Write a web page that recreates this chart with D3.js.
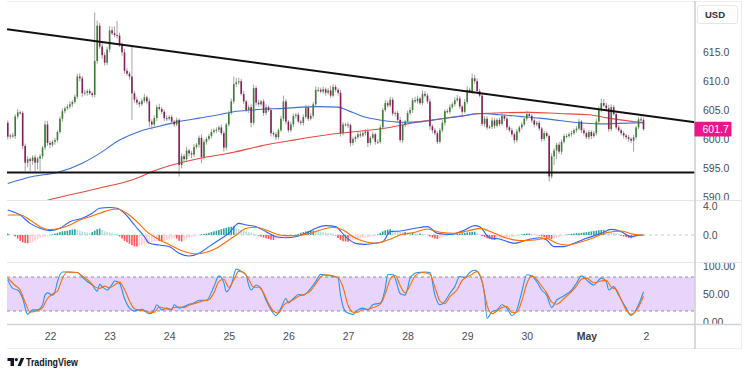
<!DOCTYPE html>
<html>
<head>
<meta charset="utf-8">
<script src="https://cdn.jsdelivr.net/npm/d3@7"></script>
<style>
  body { margin: 0; background: #fff; }
  svg { display: block; font-family: "Liberation Sans", Arial, sans-serif; }
</style>
</head>
<body>
<svg id="chart" width="749" height="375"></svg>
<script>
// hourly candles, index 0 = Apr 21 07:00, index 17 = Apr 22 00:00
var firstOpen = 602.8;
var closes = [
  600.4,600.6,600.5,603.9,604.6,604.5,598.8,595.9,596.5,596.2,
  596.8,595.9,596.6,597.0,598.5,602.5,599.3,599.0,599.5,599.8,
  601.2,603.5,604.8,605.3,605.6,606.0,606.4,607.3,610.8,610.5,
  607.9,608.0,608.3,607.9,607.6,613.5,619.6,616.0,614.5,613.2,
  615.5,618.8,618.3,618.0,617.9,616.3,615.0,611.8,611.3,610.8,
  607.9,606.8,606.3,606.0,606.6,607.2,606.5,603.0,602.5,603.6,
  605.5,605.2,604.7,603.6,603.5,603.8,603.0,602.5,603.3,595.5,
  597.0,596.5,598.0,597.5,597.3,598.6,599.0,600.2,596.8,599.5,
  600.0,600.5,601.2,601.5,601.6,602.0,601.0,598.5,602.5,604.5,
  606.5,609.5,609.8,610.0,607.8,606.5,605.0,605.5,602.8,608.8,
  606.3,606.0,606.5,604.5,605.5,605.0,601.0,600.8,600.3,601.5,
  603.5,606.5,603.0,601.5,602.5,604.0,604.2,603.0,602.8,603.8,
  605.5,603.5,604.0,606.0,608.5,608.5,608.2,608.6,608.0,608.4,
  607.5,609.0,608.5,608.0,601.0,602.5,602.5,602.4,599.3,600.0,
  600.3,600.8,600.6,601.0,601.3,599.3,600.2,600.8,599.5,599.5,
  602.0,605.0,606.2,605.8,606.8,604.4,604.5,603.3,599.8,602.4,
  603.0,604.5,605.0,606.7,606.5,607.0,606.2,607.8,607.5,606.5,
  602.2,601.5,601.0,599.5,601.5,602.8,604.8,604.7,605.5,606.0,
  606.7,607.0,605.6,604.7,606.4,608.5,608.2,610.5,610.0,608.3,
  607.5,602.6,603.5,602.0,602.1,603.2,602.3,603.3,602.6,604.0,
  603.5,602.0,601.5,600.8,599.8,601.3,602.0,602.5,603.5,604.3,
  604.0,603.2,602.5,602.8,601.8,600.0,601.0,600.5,593.5,597.0,
  598.0,599.0,597.8,599.5,600.5,600.5,600.8,601.0,601.5,601.8,
  603.0,601.5,601.0,600.3,601.2,600.5,601.0,603.0,605.0,606.2,
  605.8,605.3,601.7,605.5,604.3,602.0,601.5,601.0,600.6,600.3,
  600.0,599.7,600.3,602.0,603.4,603.3,601.7
];
var upWick = [
  0.4,0.3,0.5,0.4,0.6,0.3,0.3,0.4,0.5,0.3,
  0.4,0.5,0.3,0.4,0.3,0.6,0.6,0.4,0.3,0.4,
  0.3,0.4,0.5,0.3,0.4,0.5,0.3,0.4,0.5,0.6,
  0.4,0.5,0.3,0.4,0.3,8.4,0.9,0.5,0.6,0.5,
  0.4,0.7,0.6,1.2,2.4,0.5,0.4,0.6,0.5,0.4,
  5.2,0.4,0.5,0.3,0.4,0.6,0.3,0.5,0.4,0.5,
  0.4,0.6,0.3,0.4,0.5,0.3,0.4,0.3,0.4,0.3,
  0.5,0.4,0.6,0.3,0.4,0.5,0.3,0.4,0.6,0.4,
  0.3,0.4,0.5,0.3,0.4,0.3,0.5,0.4,0.3,0.4,
  0.5,1.3,0.8,0.6,0.4,0.5,0.3,0.4,0.5,0.6,
  0.4,0.5,0.3,0.4,0.5,0.3,0.4,0.3,0.4,0.3,
  0.5,1.0,0.4,0.3,0.5,0.4,0.3,0.4,0.3,0.5,
  0.4,0.3,0.5,0.4,0.6,0.5,0.4,0.5,0.3,0.4,
  0.8,0.5,0.4,0.3,0.5,0.4,0.3,0.4,0.3,0.4,
  0.3,0.4,0.5,0.3,0.4,0.5,0.3,0.4,0.3,0.4,
  0.5,0.4,0.6,0.4,0.5,0.4,0.3,0.4,0.5,0.4,
  0.3,0.4,0.5,0.4,0.6,0.5,0.3,0.6,0.5,0.4,
  0.5,0.3,0.4,0.3,0.4,0.5,0.3,0.4,0.5,0.4,
  0.5,0.6,0.4,0.3,0.5,0.6,0.4,0.8,0.6,0.5,
  0.4,0.3,0.5,0.4,0.3,0.5,0.4,0.3,0.4,0.5,
  0.3,0.4,0.3,0.4,0.3,0.4,0.3,0.4,0.5,0.6,
  0.4,0.3,0.4,0.3,0.4,0.3,0.4,0.3,0.3,0.5,
  0.4,0.3,0.5,0.4,0.3,0.4,0.3,0.4,0.3,0.4,
  0.5,0.3,0.4,0.3,0.4,0.3,0.4,0.5,0.6,0.8,
  0.7,0.5,0.6,0.5,0.4,0.3,0.4,0.3,0.4,0.3,
  0.4,0.3,0.4,0.3,0.4,0.5,0.4
];
var dnWick = [
  0.5,0.4,0.3,0.5,0.4,0.3,0.6,1.5,0.8,1.8,
  0.7,1.5,1.2,2.2,0.5,0.4,0.5,0.6,0.4,0.5,
  0.4,0.3,0.5,0.4,0.3,0.4,0.5,0.3,0.4,0.5,
  0.6,0.4,0.5,0.3,0.4,0.4,0.5,0.4,0.6,0.5,
  0.4,0.5,0.3,0.4,0.5,0.4,0.6,0.5,0.4,0.5,
  4.6,0.5,0.4,0.5,0.3,0.4,0.5,1.0,0.9,0.4,
  0.5,0.3,0.4,0.5,0.4,0.3,0.5,0.4,0.3,2.0,
  0.6,0.5,0.4,0.5,0.6,0.4,0.3,0.5,1.0,0.4,
  0.5,0.3,0.4,0.3,0.5,0.4,0.3,0.7,0.5,0.4,
  0.3,0.4,0.5,0.4,0.3,0.5,0.4,0.5,0.8,0.4,
  0.5,0.4,0.3,0.5,0.4,0.3,0.6,0.4,0.5,0.4,
  0.3,0.4,0.5,0.4,0.3,0.4,0.5,0.3,0.4,0.5,
  0.3,0.4,0.3,0.4,0.3,0.4,0.3,0.4,0.5,0.3,
  0.4,0.3,0.4,0.5,0.6,0.4,0.3,0.5,0.6,0.4,
  0.5,0.3,0.4,0.3,0.4,0.7,0.4,0.3,0.5,0.4,
  0.3,0.4,0.3,0.4,0.3,0.4,0.5,0.3,0.4,0.5,
  0.4,0.3,0.4,0.5,0.3,0.4,0.3,0.4,0.3,0.4,
  0.6,0.5,0.4,0.4,0.3,0.4,0.5,0.3,0.4,0.3,
  0.4,0.3,0.4,0.5,0.3,0.4,0.3,0.4,0.5,0.4,
  0.3,0.4,0.5,0.4,0.3,0.4,0.5,0.3,0.4,0.3,
  0.4,0.5,0.3,0.4,0.6,0.4,0.3,0.4,0.3,0.4,
  0.3,0.4,0.5,0.3,0.4,0.5,0.4,0.3,0.9,0.3,
  1.5,1.5,0.4,0.5,0.3,0.4,0.3,0.4,0.3,0.4,
  0.3,0.5,0.4,0.3,0.4,0.5,0.3,0.4,0.3,0.4,
  0.3,0.4,0.5,0.4,0.3,0.4,0.3,0.4,0.5,0.4,
  0.5,0.4,1.9,0.4,0.3,0.4,0.3
];

// moving averages, [candle index, price]
var maBlue = [[0,592.3],[10,593.5],[20,594.2],[30,595.8],[37,597.5],[45,599.8],[53,601.3],[61,602.2],
  [69,603.0],[77,603.6],[85,604.2],[91,604.7],[98,605.0],[111,605.3],[125,605.6],[133,605.5],[137,604.9],
  [143,603.9],[151,603.2],[159,602.9],[167,603.0],[175,603.5],[183,604.0],[190,604.4],[198,604.2],
  [206,603.9],[214,603.6],[222,603.2],[230,602.8],[238,602.6],[246,602.7],[256,602.8]];
var maRed = [[0,587.5],[16,589.4],[37,591.5],[50,592.9],[61,594.8],[77,596.6],[91,597.7],[102,598.8],
  [115,599.8],[130,600.8],[151,601.8],[166,603.0],[182,603.9],[191,604.4],[210,604.6],[222,604.4],
  [234,604.2],[242,603.6],[252,603.0],[256,602.8]];

// drawn lines, [candle index, price]
var resistance = [[-0.3,619.0],[276.7,602.9]];
var supportLevel = 594.2;
var lastPrice = 601.7;

// MACD, [candle index, value]
var macdLine = [[0,3.45],[5,2.76],[9,1.6],[13,0.92],[17,0.6],[21,0.92],[25,1.84],[30,2.3],[34,3.0],
  [37,3.68],[41,3.8],[44,3.68],[47,3.0],[51,1.38],[55,-0.23],[57,-1.15],[61,-1.38],[65,-1.6],[69,-2.53],
  [73,-2.9],[77,-2.53],[81,-1.6],[85,-0.69],[89,0.23],[93,1.6],[96,1.38],[100,1.15],[104,0.46],
  [108,-0.23],[112,-0.37],[116,-0.23],[120,0.23],[124,0.92],[128,1.29],[132,1.15],[136,-0.23],
  [140,-1.15],[144,-1.29],[147,-1.15],[151,-0.92],[154,0.46],[158,0.55],[164,0.92],[169,1.15],
  [173,0.23],[178,0.09],[184,0.69],[188,1.29],[190,1.15],[194,-0.37],[198,-0.55],[204,-1.15],
  [209,-0.69],[214,-0.37],[217,-0.69],[220,-1.61],[224,-1.61],[228,-1.15],[233,-0.46],[239,0.23],
  [243,0.78],[247,0.46],[251,-0.23],[253,-0.09],[256,0]];
var signalLine = [[0,2.76],[5,2.76],[9,2.07],[13,1.15],[17,0.74],[21,0.92],[25,1.38],[29,2.07],[33,2.53],
  [37,2.99],[41,3.45],[44,3.59],[48,3.0],[52,1.84],[56,0.46],[60,-0.46],[64,-1.15],[68,-1.84],[72,-2.39],
  [76,-2.62],[80,-2.39],[84,-1.84],[88,-0.92],[92,0],[96,0.92],[100,1.06],[104,0.69],[108,0.14],
  [112,-0.09],[116,-0.09],[120,0.09],[126,0.69],[131,1.06],[135,0.69],[139,-0.23],[143,-0.83],
  [148,-1.15],[153,-0.69],[158,0],[164,0.37],[169,0.83],[174,0.37],[180,0.23],[185,0.55],[190,0.92],
  [196,0.23],[201,-0.46],[207,-0.78],[212,-0.69],[217,-0.46],[221,-1.15],[225,-1.38],[231,-0.92],
  [236,-0.37],[241,0.32],[247,0.55],[252,0.09],[256,0]];
var macdHist = [
  0.2,0.1,0.0,-0.2,
  -0.5,-0.8,-1.0,-1.1,-1.15,-1.1,
  -1.0,-0.8,-0.6,-0.4,-0.3,-0.2,-0.15,-0.1,
  0.1,0.2,0.3,0.4,0.5,0.55,0.6,0.7,0.75,0.8,
  0.7,0.6,0.5,0.4,0.35,0.3,0.4,
  0.6,0.8,0.9,0.7,
  0.5,0.4,0.35,0.3,0.2,0.1,
  -0.2,-0.5,-0.8,-1.0,-1.2,-1.4,-1.55,-1.6,
  -1.5,-1.4,-1.3,-1.2,-1.1,-1.0,-0.9,-0.8,
  -0.85,-0.9,-0.8,-0.7,-0.6,
  -0.5,-0.4,-0.5,-0.8,
  -0.9,-0.8,-0.6,-0.4,
  -0.3,-0.2,-0.1,0.0,
  0.1,0.15,0.2,0.3,0.4,
  0.5,0.6,0.7,0.8,0.9,1.0,1.1,1.15,1.2,
  1.0,0.8,0.7,0.6,0.5,0.4,0.3,0.2,0.1,
  -0.1,-0.2,-0.35,-0.45,-0.55,-0.65,-0.7,
  -0.6,-0.5,-0.4,-0.35,-0.3,-0.2,-0.1,-0.05,0.05,0.15,
  0.3,0.4,0.5,0.55,0.6,0.6,0.55,0.5,0.45,
  0.4,0.35,0.3,0.25,0.15,
  -0.1,-0.4,-0.7,-0.85,-0.9,-0.92,-0.85,
  -0.75,-0.65,-0.55,-0.45,-0.4,-0.35,-0.3,-0.25,-0.2,
  -0.1,0.1,0.3,0.5,
  0.65,0.75,0.8,0.75,0.6,0.5,0.45,
  0.4,0.4,0.35,0.3,0.3,0.25,0.2,0.2,0.15,0.1,0.0,
  -0.2,-0.35,-0.5,-0.55,-0.45,
  -0.3,-0.2,-0.1,0.0,0.05,0.1,0.15,0.2,
  0.25,0.3,0.35,0.4,0.45,0.45,0.3,
  0.1,-0.15,-0.3,-0.45,-0.55,-0.65,
  -0.7,-0.65,-0.55,-0.5,-0.45,-0.4,-0.35,-0.3,-0.2,-0.1,0.0,
  0.1,0.15,0.2,0.2,0.15,0.1,0.0,-0.1,
  -0.2,-0.3,-0.4,-0.45,-0.55,-0.5,-0.4,-0.3,-0.2,
  -0.1,0.05,0.1,0.15,0.2,0.25,0.25,0.3,
  0.35,0.4,0.45,0.5,0.55,0.6,0.65,0.7,0.7,0.6,
  0.5,0.4,0.3,0.2,0.1,
  -0.1,-0.2,-0.3,-0.4,-0.45,-0.4,
  -0.3,-0.2,-0.1,-0.05
];

// stochastic, [candle index, value]
var stochK = [[0,75],[2,60],[4,57],[6,42],[8,14],[10,22],[12,22],[14,31],[15,48],[16,52],[18,48],[19,54],
  [20,72],[22,89],[24,89],[28,88],[30,80],[32,72],[34,66],[36,55],[37,67],[38,63],[40,57],[42,67],[43,73],
  [45,69],[47,42],[49,25],[51,20],[54,23],[57,15],[59,22],[60,31],[62,22],[64,25],[66,22],[67,31],[69,25],
  [71,28],[73,32],[75,34],[77,39],[80,39],[83,63],[85,82],[87,70],[88,54],[90,66],[92,94],[94,90],[96,83],
  [97,66],[98,57],[100,66],[102,60],[104,39],[106,22],[108,12],[110,25],[112,42],[113,34],[115,42],
  [117,49],[119,48],[122,60],[124,72],[126,85],[128,83],[131,81],[133,78],[134,48],[136,19],[139,14],
  [141,22],[143,25],[145,22],[147,31],[150,34],[152,60],[153,84],[155,85],[156,78],[158,51],[160,48],
  [161,60],[162,78],[165,88],[168,89],[170,88],[172,48],[174,31],[176,37],[178,51],[180,63],[182,81],
  [184,79],[186,88],[188,92],[190,84],[192,48],[193,7],[195,19],[197,22],[199,31],[201,25],[203,12],
  [205,22],[207,54],[209,84],[211,82],[213,72],[215,57],[217,48],[219,26],[221,39],[224,47],[227,57],
  [229,69],[231,82],[233,75],[236,66],[239,78],[241,72],[242,57],[244,63],[246,48],[249,25],[251,12],
  [254,31],[256,54]];
var stochD = [[0,78],[3,65],[5,57],[7,35],[9,18],[12,21],[14,26],[16,42],[18,50],[20,55],[22,78],[24,89],
  [28,88],[30,82],[33,72],[35,63],[37,60],[39,64],[41,61],[43,66],[45,71],[47,58],[49,38],[51,24],[54,21],
  [57,18],[59,18],[61,27],[63,25],[65,23],[67,26],[69,27],[71,26],[73,30],[75,33],[78,37],[81,40],[83,52],
  [85,72],[87,76],[89,62],[91,75],[93,90],[95,88],[97,76],[99,62],[101,62],[103,52],[105,33],[107,20],
  [109,16],[111,30],[113,36],[115,40],[117,46],[119,49],[122,56],[124,68],[126,80],[128,84],[131,82],
  [133,79],[135,62],[137,30],[139,18],[141,18],[143,23],[145,23],[147,26],[150,32],[152,50],[154,76],
  [156,83],[158,65],[160,52],[162,65],[164,82],[167,88],[170,85],[172,62],[174,38],[176,33],[178,45],
  [181,58],[183,74],[185,80],[187,85],[189,90],[191,72],[193,30],[195,15],[197,20],[199,26],[201,28],
  [203,17],[205,18],[207,38],[209,68],[211,82],[213,76],[215,64],[217,52],[219,36],[221,32],[224,42],
  [227,54],[229,64],[231,76],[233,78],[236,70],[239,73],[241,74],[243,62],[245,58],[247,40],[249,22],
  [251,14],[253,20],[256,46]];

// axis labels
var priceTicks = [615, 610, 605, 600, 595, 590];
var macdTicks = [4, 0];
var stochTicks = [100, 50, 0];
var stochBands = [80, 20];
var dayTicks = [17, 41, 65, 89, 113, 137, 161, 185, 209, 233, 257];
var dayLabels = ["22", "23", "24", "25", "26", "27", "28", "29", "30", "May", "2"];

var svg = d3.select("#chart");
var defs = svg.append("defs");
var L = 7, R = 695, RA = 741;

function clip(id, x0, y0, x1, y1) {
  defs.append("clipPath").attr("id", id).append("rect")
    .attr("x", x0).attr("y", y0).attr("width", x1 - x0).attr("height", y1 - y0);
  return "url(#" + id + ")";
}

var x = d3.scaleLinear().domain([17, 257]).range([50, 646]);
var yPrice = d3.scaleLinear().domain([590, 615]).range([196.7, 52.3]);
var yMacd = d3.scaleLinear().domain([0, 4]).range([235, 206]);
var yStoch = d3.scaleLinear().domain([0, 100]).range([322.3, 265.7]);

// frame
var frame = svg.append("g").attr("fill", "none");
frame.append("line").attr("x1", L).attr("x2", RA).attr("y1", 1.5).attr("y2", 1.5).attr("stroke", "#eceef2");
frame.append("line").attr("x1", L).attr("x2", RA).attr("y1", 200.5).attr("y2", 200.5).attr("stroke", "#e3e5ea");
frame.append("line").attr("x1", L).attr("x2", RA).attr("y1", 262.5).attr("y2", 262.5).attr("stroke", "#e3e5ea");
frame.append("line").attr("x1", L).attr("x2", RA).attr("y1", 348.5).attr("y2", 348.5).attr("stroke", "#eceef2");
frame.append("line").attr("x1", RA + 0.5).attr("x2", RA + 0.5).attr("y1", 1).attr("y2", 349).attr("stroke", "#eceef2");

// ---- price pane
var pp = svg.append("g").attr("clip-path", clip("cpPrice", L, 2, R, 200));

var candles = closes.map(function(c, i) {
  var o = i === 0 ? firstOpen : closes[i - 1];
  return { i: i, o: o, c: c, h: Math.max(o, c) + upWick[i], l: Math.min(o, c) - dnWick[i] };
});

var ma = d3.line().x(function(d) { return x(d[0]); }).y(function(d) { return yPrice(d[1]); })
  .curve(d3.curveMonotoneX);
pp.append("path").datum(maRed).attr("d", ma).attr("fill", "none").attr("stroke", "#e5493f").attr("stroke-width", 1.1);
pp.append("path").datum(maBlue).attr("d", ma).attr("fill", "none").attr("stroke", "#3f6fd6").attr("stroke-width", 1.1);

pp.selectAll("line.wick").data(candles).enter().append("line")
  .attr("class", "wick")
  .attr("x1", function(d) { return x(d.i); }).attr("x2", function(d) { return x(d.i); })
  .attr("y1", function(d) { return yPrice(d.h); }).attr("y2", function(d) { return yPrice(d.l); })
  .attr("stroke", "#9a9a9a").attr("stroke-width", 0.9);

pp.selectAll("rect.body").data(candles).enter().append("rect")
  .attr("class", "body")
  .attr("x", function(d) { return x(d.i) - 0.8; })
  .attr("width", 1.6)
  .attr("y", function(d) { return yPrice(Math.max(d.o, d.c)); })
  .attr("height", function(d) { return Math.max(1, Math.abs(yPrice(d.o) - yPrice(d.c))); })
  .attr("fill", function(d) { return d.c >= d.o ? "#3b7d33" : "#8c1b57"; });

var tl = d3.line().x(function(d) { return x(d[0]); }).y(function(d) { return yPrice(d[1]); });
pp.append("path").datum(resistance).attr("d", tl).attr("stroke", "#111").attr("stroke-width", 2).attr("fill", "none");
pp.append("line").attr("x1", L).attr("x2", R)
  .attr("y1", yPrice(supportLevel)).attr("y2", yPrice(supportLevel))
  .attr("stroke", "#111").attr("stroke-width", 2);

// ---- MACD pane
var mp = svg.append("g").attr("clip-path", clip("cpMacd", L, 201, R, 262));
mp.append("line").attr("x1", L).attr("x2", R).attr("y1", yMacd(0)).attr("y2", yMacd(0))
  .attr("stroke", "#c9cbd1").attr("stroke-dasharray", "3,3");
mp.selectAll("rect.hist").data(macdHist).enter().append("rect")
  .attr("class", "hist")
  .attr("x", function(d, i) { return x(i) - 0.8; })
  .attr("width", 1.6)
  .attr("y", function(d) { return Math.min(yMacd(0), yMacd(d)); })
  .attr("height", function(d) { return Math.abs(yMacd(d) - yMacd(0)); })
  .attr("fill", function(d, i) {
    var p = i === 0 ? d : macdHist[i - 1];
    if (d >= 0) return d >= p ? "#26a69a" : "#b2dfdb";
    return d <= p ? "#ff5252" : "#ffcdd2";
  });
var ml = d3.line().x(function(d) { return x(d[0]); }).y(function(d) { return yMacd(d[1]); })
  .curve(d3.curveMonotoneX);
mp.append("path").datum(macdLine).attr("d", ml).attr("fill", "none").attr("stroke", "#2962ff").attr("stroke-width", 1.1);
mp.append("path").datum(signalLine).attr("d", ml).attr("fill", "none").attr("stroke", "#ff6d00").attr("stroke-width", 1.1);

// ---- Stochastic pane
var sp = svg.append("g").attr("clip-path", clip("cpStoch", L, 263, R, 324));
sp.append("rect").attr("x", L).attr("width", R - L)
  .attr("y", yStoch(stochBands[0])).attr("height", yStoch(stochBands[1]) - yStoch(stochBands[0]))
  .attr("fill", "#e9d5fb");
sp.selectAll("line.band").data(stochBands).enter().append("line")
  .attr("class", "band")
  .attr("x1", L).attr("x2", R)
  .attr("y1", function(d) { return yStoch(d); }).attr("y2", function(d) { return yStoch(d); })
  .attr("stroke", "#8f8b99").attr("stroke-dasharray", "3,3");
var sl = d3.line().x(function(d) { return x(d[0]); }).y(function(d) { return yStoch(d[1]); })
  .curve(d3.curveMonotoneX);
sp.append("path").datum(stochK).attr("d", sl).attr("fill", "none").attr("stroke", "#2196f3").attr("stroke-width", 1.1);
sp.append("path").datum(stochD).attr("d", sl).attr("fill", "none").attr("stroke", "#ff6d00").attr("stroke-width", 1.1);

// ---- axes
function styleAxis(g) {
  g.select(".domain").remove();
  g.selectAll("text").attr("fill", "#4a4e59").style("font-size", "10.5px");
}
svg.append("g").attr("clip-path", clip("cpPa", R, 2, RA, 200))
  .append("g").attr("transform", "translate(" + R + ",0)")
  .call(d3.axisRight(yPrice).tickValues(priceTicks).tickFormat(d3.format(".1f")).tickSize(0).tickPadding(8))
  .call(styleAxis);
svg.append("g").attr("clip-path", clip("cpMa", R, 201, RA, 262))
  .append("g").attr("transform", "translate(" + R + ",0)")
  .call(d3.axisRight(yMacd).tickValues(macdTicks).tickFormat(d3.format(".1f")).tickSize(0).tickPadding(8))
  .call(styleAxis);
svg.append("g").attr("clip-path", clip("cpSa", R, 263, RA, 324))
  .append("g").attr("transform", "translate(" + R + ",0)")
  .call(d3.axisRight(yStoch).tickValues(stochTicks).tickFormat(d3.format(".2f")).tickSize(0).tickPadding(8))
  .call(styleAxis);

var xa = svg.append("g").attr("transform", "translate(0,324)")
  .call(d3.axisBottom(x).tickValues(dayTicks).tickFormat(function(d, k) { return dayLabels[k]; })
    .tickSize(0).tickPadding(9))
  .call(styleAxis);
xa.selectAll("text").filter(function(d, k) { return dayLabels[k] === "May"; })
  .attr("font-weight", "bold").attr("fill", "#3a3e49");

// axis borders
svg.append("line").attr("x1", L).attr("x2", RA).attr("y1", 324.5).attr("y2", 324.5)
  .attr("stroke", "#cfd1d6").attr("stroke-width", 1.6);
svg.append("line").attr("x1", R).attr("x2", R).attr("y1", 1).attr("y2", 349)
  .attr("stroke", "#cfd1d6").attr("stroke-width", 1.6);

// currency box
svg.append("rect").attr("x", 697.5).attr("y", 5.5).attr("width", 40).attr("height", 18).attr("rx", 2.5)
  .attr("fill", "#fff").attr("stroke", "#e3e5ea");
svg.append("text").attr("x", 705).attr("y", 17.5).text("USD")
  .attr("fill", "#2a2e39").style("font-size", "9.5px").attr("font-weight", "bold");

// last price tag
var yl = yPrice(lastPrice);
svg.append("rect").attr("x", 694.5).attr("y", yl - 7.3).attr("width", 37).attr("height", 14.6).attr("rx", 1)
  .attr("fill", "#ec168b");
svg.append("text").attr("x", 702.5).attr("y", yl).attr("dy", "0.35em").text(d3.format(".1f")(lastPrice))
  .attr("fill", "#fff").style("font-size", "10.5px");

// logo
var logo = svg.append("g").attr("fill", "#131722");
logo.append("rect").attr("x", 7.5).attr("y", 358).attr("width", 6.5).attr("height", 3);
logo.append("rect").attr("x", 10.5).attr("y", 358).attr("width", 3.5).attr("height", 8);
logo.append("circle").attr("cx", 16.3).attr("cy", 359.6).attr("r", 1.6);
logo.append("path").attr("d", "M17.6,366 L20.9,358 L24.2,358 L20.9,366 Z");
svg.append("text").attr("x", 26).attr("y", 366).text("TradingView")
  .attr("fill", "#131722").style("font-size", "11px").attr("font-weight", "bold")
  .attr("textLength", 52).attr("lengthAdjust", "spacingAndGlyphs");
</script>
</body>
</html>
